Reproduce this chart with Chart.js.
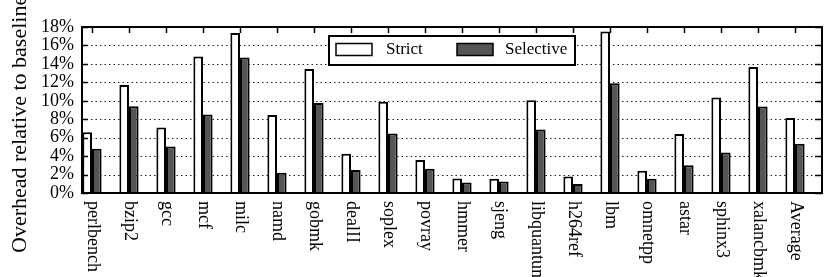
<!DOCTYPE html>
<html><head><meta charset="utf-8">
<script src="https://cdn.jsdelivr.net/npm/chart.js@4/dist/chart.umd.min.js"></script>
<style>html,body{margin:0;padding:0;background:#fff}#wrap{width:830px;height:277px}</style>
</head><body><div id="wrap"><canvas id="c" width="830" height="277"></canvas></div>
<script>
const categories = ['perlbench','bzip2','gcc','mcf','milc','namd','gobmk','dealII','soplex','povray','hmmer','sjeng','libquantum','h264ref','lbm','omnetpp','astar','sphinx3','xalancbmk','Average'];
const strictValues = [6.6, 11.7, 7.1, 14.8, 17.35, 8.45, 13.45, 4.25, 9.9, 3.57, 1.58, 1.55, 10.05, 1.8, 17.5, 2.41, 6.4, 10.35, 13.65, 8.12];
const selectiveValues = [4.8, 9.4, 5.05, 8.5, 14.7, 2.2, 9.75, 2.5, 6.45, 2.63, 1.15, 1.26, 6.88, 0.97, 11.9, 1.55, 3.0, 4.4, 9.37, 5.34];
const yTicks = [0, 2, 4, 6, 8, 10, 12, 14, 16, 18];
const seriesNames = ['Strict', 'Selective'];
const yTitle = 'Overhead relative to baseline';

const SERIF = '"Liberation Serif", "Times New Roman", serif';

const decor = {
  id: 'decor',
  beforeDatasetsDraw(chart) {
    const {ctx, chartArea: a, scales: {y}} = chart;
    ctx.save();
    ctx.strokeStyle = '#222';
    ctx.lineWidth = 1.2;
    ctx.setLineDash([1.5, 3]);
    yTicks.forEach(v => {
      if (v === yTicks[0] || v === yTicks[yTicks.length - 1]) return;
      const py = Math.round(y.getPixelForValue(v)) + 0.5;
      ctx.beginPath(); ctx.moveTo(a.left, py); ctx.lineTo(a.right, py); ctx.stroke();
    });
    ctx.restore();
  },
  afterDatasetsDraw(chart) {
    const {ctx, chartArea: a, scales: {x, y}} = chart;
    ctx.save();
    ctx.strokeStyle = '#000';
    ctx.lineWidth = 1.5;
    yTicks.forEach(v => {
      const py = Math.round(y.getPixelForValue(v)) + 0.5;
      ctx.beginPath(); ctx.moveTo(a.left, py); ctx.lineTo(a.left + 6, py); ctx.stroke();
      ctx.beginPath(); ctx.moveTo(a.right, py); ctx.lineTo(a.right - 7, py); ctx.stroke();
    });
    categories.forEach((c, i) => {
      const px = Math.round(x.getPixelForValue(i)) + 0.5;
      ctx.beginPath(); ctx.moveTo(px, a.top); ctx.lineTo(px, a.top + 6); ctx.stroke();
      ctx.beginPath(); ctx.moveTo(px, a.bottom); ctx.lineTo(px, a.bottom - 6); ctx.stroke();
    });
    ctx.lineWidth = 2;
    ctx.strokeRect(a.left, a.top, a.right - a.left, a.bottom - a.top);

    // legend
    ctx.fillStyle = '#fff';
    ctx.fillRect(329, 36, 246, 29);
    ctx.lineWidth = 2;
    ctx.strokeRect(329, 36, 246, 29);
    const sw = [336, 457];
    const tx = [386, 505];
    chart.data.datasets.forEach((ds, k) => {
      ctx.fillStyle = ds.backgroundColor;
      ctx.fillRect(sw[k], 43.5, 36, 12);
      ctx.lineWidth = 1.5;
      ctx.strokeStyle = '#000';
      ctx.strokeRect(sw[k], 43.5, 36, 12);
      ctx.fillStyle = '#000';
      ctx.font = '17px ' + SERIF;
      ctx.textAlign = 'left';
      ctx.textBaseline = 'middle';
      ctx.fillText(ds.label, tx[k], 50);
    });

    // x labels (rotated clockwise)
    ctx.fillStyle = '#000';
    ctx.font = '18px ' + SERIF;
    ctx.textAlign = 'left';
    ctx.textBaseline = 'middle';
    categories.forEach((c, i) => {
      const px = x.getPixelForValue(i);
      ctx.save();
      ctx.translate(px + 1, a.bottom + 8);
      ctx.rotate(Math.PI / 2);
      ctx.fillText(c, 0, 0);
      ctx.restore();
    });

    // y title
    ctx.save();
    ctx.font = '22px ' + SERIF;
    ctx.translate(20, 253);
    ctx.rotate(-Math.PI / 2);
    ctx.textAlign = 'left';
    ctx.textBaseline = 'middle';
    ctx.fillText(yTitle, 0, 0);
    ctx.restore();
    ctx.restore();
  }
};

new Chart(document.getElementById('c'), {
  type: 'bar',
  data: {
    datasets: [
      {label: seriesNames[0], data: categories.map((c, i) => ({x: i, y: strictValues[i]})),
       backgroundColor: '#fff', borderColor: '#000', borderWidth: 2, borderSkipped: 'start'},
      {label: seriesNames[1], data: categories.map((c, i) => ({x: i, y: selectiveValues[i]})),
       backgroundColor: '#555', borderColor: '#000', borderWidth: 2, borderSkipped: 'start'}
    ]
  },
  options: {
    responsive: false,
    animation: false,
    devicePixelRatio: 1,
    layout: {padding: {left: 0, right: 8, top: 27, bottom: 0}},
    plugins: {legend: {display: false}, tooltip: {enabled: false}},
    datasets: {bar: {categoryPercentage: 0.52, barPercentage: 1}},
    scales: {
      x: {type: 'linear', min: -0.27, max: 19.73, offset: false,
          grid: {display: false}, border: {display: false}, ticks: {display: false},
          afterFit(s) { s.height = 84; }},
      y: {min: 0, max: 18,
          grid: {display: false, drawTicks: false}, border: {display: false},
          afterBuildTicks(s) { s.ticks = yTicks.map(v => ({value: v})); },
          ticks: {stepSize: 2, autoSkip: false, padding: 8, color: '#000', font: {family: SERIF, size: 18},
                  callback: v => v + '%'},
          afterFit(s) { s.width = 82; }}
    }
  },
  plugins: [decor]
});
</script>
</body></html>
